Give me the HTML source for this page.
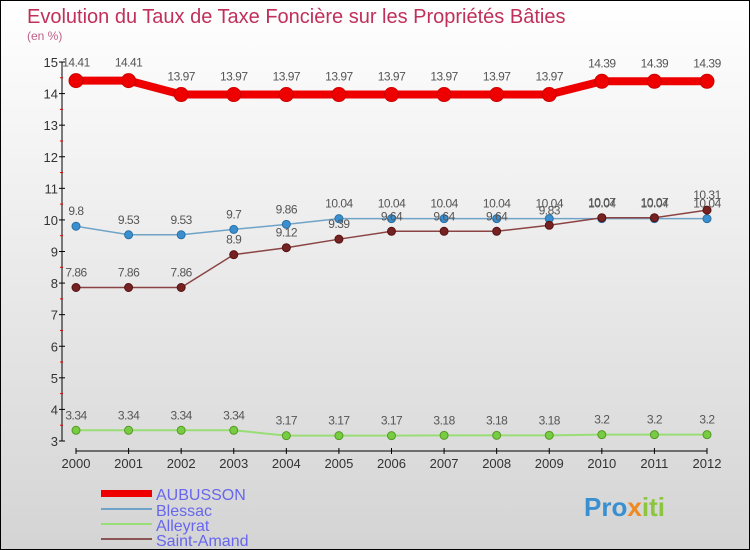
<!DOCTYPE html>
<html><head><meta charset="utf-8"><style>
body{margin:0}
#c{width:750px;height:550px;position:relative;overflow:hidden;font-family:"Liberation Sans",sans-serif;box-sizing:border-box;border:1px solid #000;background:linear-gradient(#fff,#d4d4d4)}
</style></head><body>
<div id="c">
<svg id="s" width="750" height="550" style="position:absolute;left:0;top:0">
<text x="26" y="22" font-size="20" fill="#c0305a">Evolution du Taux de Taxe Foncière sur les Propriétés Bâties</text>
<text x="26" y="39" font-size="12" fill="#c0608a">(en %)</text>
<g id="ax"></g><g id="ser"></g>
<g>
<rect x="100" y="489" width="51" height="7" fill="#e00"/>
<text x="155" y="499" font-size="16" fill="#6666ee">AUBUSSON</text>
<rect x="100" y="507" width="51" height="2" fill="#6fa4c8"/>
<text x="155" y="515" font-size="16" fill="#6666ee">Blessac</text>
<rect x="100" y="522" width="51" height="2" fill="#99dd77"/>
<text x="155" y="530" font-size="16" fill="#6666ee">Alleyrat</text>
<rect x="100" y="537" width="51" height="2" fill="#8b5555"/>
<text x="155" y="545" font-size="16" fill="#6666ee">Saint-Amand</text>
</g>
<text x="583" y="515" font-size="26" font-weight="bold" fill="#3a8fd0">Pro<tspan fill="#f08a20">x</tspan><tspan fill="#8cc63f">iti</tspan></text>
</svg>
</div>
<script>
const years=[2000,2001,2002,2003,2004,2005,2006,2007,2008,2009,2010,2011,2012];
const yTicks=[3,4,5,6,7,8,9,10,11,12,13,14,15];
const aubusson=[14.41,14.41,13.97,13.97,13.97,13.97,13.97,13.97,13.97,13.97,14.39,14.39,14.39];
const blessac=[9.8,9.53,9.53,9.7,9.86,10.04,10.04,10.04,10.04,10.04,10.04,10.04,10.04];
const alleyrat=[3.34,3.34,3.34,3.34,3.17,3.17,3.17,3.18,3.18,3.18,3.2,3.2,3.2];
const saintAmand=[7.86,7.86,7.86,8.9,9.12,9.39,9.64,9.64,9.64,9.83,10.07,10.07,10.31];
const NS="http://www.w3.org/2000/svg";
const X=i=>75+i*(706-75)/(years.length-1);
const Y=v=>440-(v-3)*(440-61)/12;
function mk(tag,at,p){const e=document.createElementNS(NS,tag);for(const k in at)e.setAttribute(k,at[k]);p.appendChild(e);return e;}
const ax=document.getElementById('ax'),ser=document.getElementById('ser');
let l=mk('line',{x1:61,y1:Y(15),x2:61,y2:Y(3),stroke:'#000'},ax);


l=mk('line',{x1:X(0),y1:450,x2:X(12),y2:450,stroke:'#000'},ax);


yTicks.forEach(t=>{mk('line',{x1:58,x2:64,y1:Y(t),y2:Y(t),stroke:'#000'},ax);
 if(t<15)mk('line',{x1:59,x2:62,y1:Y(t+0.5),y2:Y(t+0.5),stroke:'#e00'},ax);
 const tx=mk('text',{x:57,y:Y(t)+5,'font-size':13,'text-anchor':'end',fill:'#333'},ax);tx.textContent=t;
 
 });
years.forEach((y,i)=>{mk('line',{x1:X(i),x2:X(i),y1:447,y2:453,stroke:'#000'},ax);
 const tx=mk('text',{x:X(i),y:467,'font-size':13,'text-anchor':'middle',fill:'#333'},ax);tx.textContent=y;
 
 });
function series(vals,name,color,w,r,dot,stroke){
 const g=mk('g',{},ser);
 
 
 mk('polyline',{points:vals.map((v,i)=>X(i)+','+Y(v)).join(' '),fill:'none',stroke:color,'stroke-width':w},g);
 vals.forEach((v,i)=>{const c=mk('circle',{cx:X(i),cy:Y(v),r:r,fill:dot,stroke:stroke,'stroke-width':1},g);
  
  
  const t=mk('text',{x:X(i),y:Y(v)-11-(r>5?3:0),'font-size':12,'text-anchor':'middle',fill:'#555','letter-spacing':'-0.5'},g);t.textContent=v;
  
  });
}
series(alleyrat,'alleyrat','#99dd77',2,4,'#77cc44','#559922');
series(blessac,'blessac','#6fa4c8',1.5,4,'#3a8fd0','#2a6fa0');
series(saintAmand,'saint-amand','#8b4444',1.5,4,'#772222','#551111');
series(aubusson,'aubusson','#e00',8,7,'#e00','#c00');
</script>
</body></html>
